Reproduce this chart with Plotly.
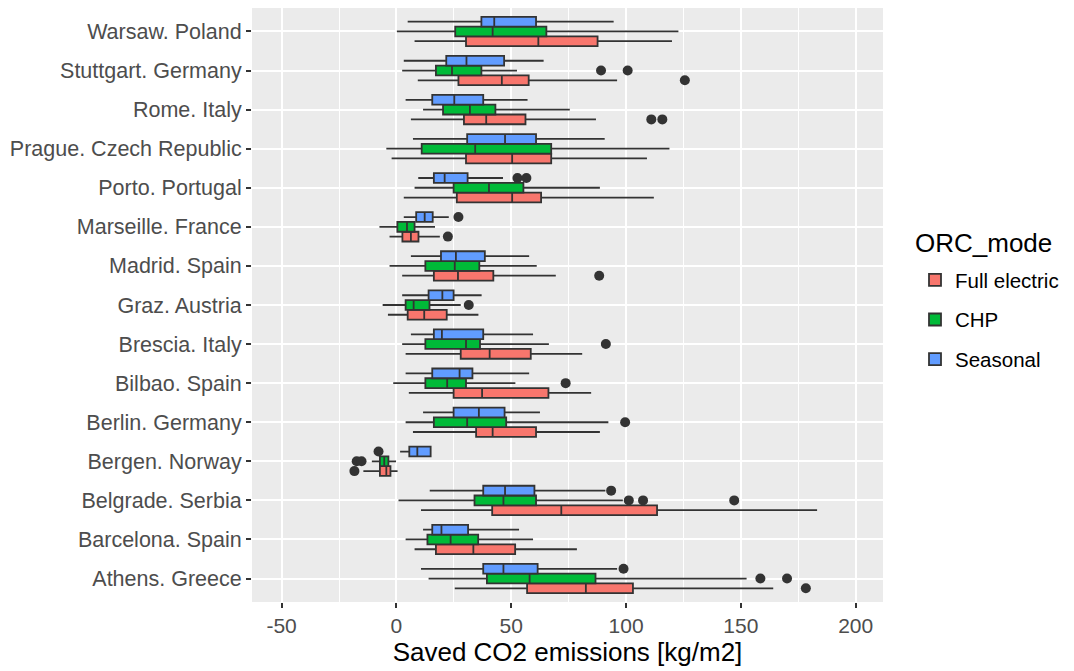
import plotly.graph_objects as go

cities = ["Athens. Greece", "Barcelona. Spain", "Belgrade. Serbia", "Bergen. Norway",
          "Berlin. Germany", "Bilbao. Spain", "Brescia. Italy", "Graz. Austria",
          "Madrid. Spain", "Marseille. France", "Porto. Portugal",
          "Prague. Czech Republic", "Rome. Italy", "Stuttgart. Germany", "Warsaw. Poland"]

x_tickvals = [-50, 0, 50, 100, 150, 200]
x_ticktext = ["-50", "0", "50", "100", "150", "200"]

# Full electric
fe_low = [25.4, 7.9, 10.7, -14.4, 7.2, 5.4, 4.0, -3.7, 2.5, -3.0, 3.2, -2.1, 6.3, 9.3, 7.9]
fe_q1 = [56.9, 17.2, 41.7, -7.2, 34.7, 24.9, 28.0, 4.9, 16.3, 2.6, 26.3, 30.3, 29.4, 27.0, 30.3]
fe_med = [82.5, 33.5, 71.8, -4.4, 41.9, 37.3, 40.6, 12.1, 26.8, 6.3, 50.4, 50.4, 39.1, 45.9, 61.8]
fe_q3 = [103.0, 51.7, 113.5, -2.6, 60.8, 66.2, 58.5, 21.9, 42.2, 9.6, 63.0, 67.4, 56.2, 57.6, 87.6]
fe_up = [164.1, 78.6, 183.2, 0.5, 88.6, 84.8, 80.9, 35.7, 69.4, 18.9, 112.1, 109.1, 86.9, 96.1, 120.0]
fe_out = [[178.3], [], [], [-18.3], [], [], [], [], [88.3], [22.4], [], [], [111.0, 115.8], [125.6], []]

# CHP
chp_low = [14.0, 4.0, 0.9, -10.7, 4.0, -1.4, 2.5, -6.0, -3.0, -7.4, 7.9, -4.4, 11.6, 2.5, 0.2]
chp_q1 = [39.4, 13.5, 34.0, -7.2, 16.3, 12.6, 12.6, 4.0, 12.6, 0.4, 24.9, 11.0, 20.3, 17.2, 25.6]
chp_med = [58.0, 23.6, 46.6, -5.3, 30.8, 22.1, 30.3, 7.5, 25.4, 4.6, 40.3, 34.3, 32.0, 24.2, 41.9]
chp_q3 = [86.7, 35.6, 60.8, -3.5, 47.8, 30.3, 36.4, 14.4, 36.1, 7.9, 55.3, 67.4, 43.1, 37.0, 65.3]
chp_up = [152.5, 59.5, 98.6, -0.2, 92.3, 51.8, 66.4, 28.0, 61.1, 16.8, 88.6, 118.9, 75.5, 52.5, 122.8]
chp_out = [[158.5, 170.1], [], [101.2, 107.4, 147.1], [-17.3, -15.2], [99.6], [73.7], [91.2],
           [31.5], [], [], [], [], [], [89.1, 100.7], []]

# Seasonal
se_low = [10.7, 11.6, 14.5, 1.6, 11.6, 4.0, 6.3, 2.5, 6.3, 3.2, 9.5, 7.2, 4.0, 3.2, 4.9]
se_q1 = [37.8, 15.6, 37.8, 5.6, 24.9, 15.6, 16.3, 14.0, 19.4, 8.6, 16.3, 30.8, 15.6, 21.7, 37.0]
se_med = [46.6, 19.6, 47.3, 9.1, 35.9, 27.5, 19.8, 20.0, 25.9, 12.3, 21.0, 47.3, 25.2, 30.5, 42.6]
se_q3 = [61.5, 31.2, 60.1, 14.9, 47.1, 33.1, 37.8, 24.9, 38.5, 15.8, 31.0, 60.8, 37.8, 46.9, 60.8]
se_up = [96.1, 53.4, 91.0, 14.9, 62.5, 57.8, 59.5, 37.1, 57.8, 22.8, 46.4, 90.7, 57.1, 64.1, 94.6]
se_out = [[98.9], [], [93.5], [-7.8], [], [], [], [], [], [27.0], [52.7, 56.6], [], [], [], []]

series = [
    ("Full electric", "#F8766D", fe_low, fe_q1, fe_med, fe_q3, fe_up, fe_out),
    ("CHP", "#00BA38", chp_low, chp_q1, chp_med, chp_q3, chp_up, chp_out),
    ("Seasonal", "#619CFF", se_low, se_q1, se_med, se_q3, se_up, se_out),
]

fig = go.Figure()
for name, color, lo, q1, med, q3, up, out in series:
    fig.add_trace(go.Box(
        name=name, orientation="h", y=cities, x=out,
        lowerfence=lo, q1=q1, median=med, q3=q3, upperfence=up,
        fillcolor=color, line=dict(color="#333333", width=1.8),
        whiskerwidth=0, boxpoints="outliers", pointpos=0, jitter=0,
        marker=dict(color="#333333", size=10, line=dict(width=0)),
        legendgroup=name, hoverinfo="x+y",
    ))

fig.add_annotation(
    text="ORC_mode", xref="paper", yref="paper",
    x=(913 - 252) / 631, y=(602 - 243) / 594, xanchor="left", yanchor="middle",
    showarrow=False, font=dict(size=26, color="black"),
)

fig.update_layout(
    width=1074, height=671,
    margin=dict(l=252, r=191, t=8, b=69),
    paper_bgcolor="white", plot_bgcolor="#EBEBEB",
    boxmode="group", boxgap=0.25, boxgroupgap=0,
    font=dict(family="Liberation Sans, Arial, sans-serif", color="#4D4D4D", size=21),
    legend=dict(
        x=(915 - 252) / 631, xanchor="left", y=(602 - 260) / 594, yanchor="top",
        font=dict(size=20.5, color="black"), tracegroupgap=10,
        bgcolor="rgba(0,0,0,0)", borderwidth=0,
    ),
    xaxis=dict(
        range=[-62.9, 211.9], tickvals=x_tickvals, ticktext=x_ticktext,
        showgrid=True, gridcolor="white", gridwidth=2,
        minor=dict(tickvals=[-25, 25, 75, 125, 175], showgrid=True, gridcolor="white", gridwidth=1),
        zeroline=False, ticks="outside", ticklen=5, tickwidth=1.5, tickcolor="#333333",
        tickfont=dict(size=21, color="#4D4D4D"),
        title=dict(text="Saved CO2 emissions [kg/m2]", font=dict(size=26, color="black"), standoff=6),
    ),
    yaxis=dict(
        type="category", categoryorder="array", categoryarray=cities,
        range=[-0.6, 14.6],
        showgrid=True, gridcolor="white", gridwidth=2,
        zeroline=False, ticks="outside", ticklen=5, tickwidth=1.5, tickcolor="#333333",
        tickfont=dict(size=21.5, color="#4D4D4D"),
    ),
)

fig.write_html("out.html")
